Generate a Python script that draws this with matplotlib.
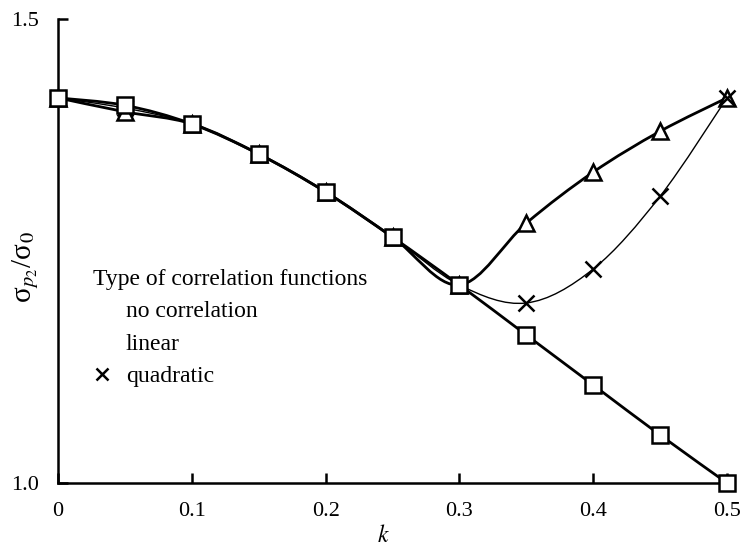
import numpy as np
import matplotlib.pyplot as plt
from matplotlib.path import Path
from matplotlib.patches import PathPatch
from matplotlib.lines import Line2D

plt.rcParams['font.family'] = ['Liberation Serif', 'DejaVu Serif']
plt.rcParams['mathtext.fontset'] = 'stix'

k = [0, 0.05, 0.1, 0.15, 0.2, 0.25, 0.3, 0.35, 0.4, 0.45, 0.5]
no_corr = [1.415, 1.407, 1.387, 1.3545, 1.3136, 1.265, 1.2134, 1.1595, 1.1056, 1.0517, 1.0]
linear = [1.415, 1.400, 1.387, 1.3545, 1.3136, 1.265, 1.2134, 1.280, 1.335, 1.379, 1.415]
quadratic = [1.415, 1.404, 1.387, 1.3545, 1.3136, 1.265, 1.2134, 1.194, 1.2306, 1.309, 1.415]

x_ticks = [0, 0.1, 0.2, 0.3, 0.4, 0.5]
x_ticklabels = ['0', '0.1', '0.2', '0.3', '0.4', '0.5']
y_ticks = [1.0, 1.5]
y_ticklabels = ['1.0', '1.5']


def smooth_path(x, y):
    # Catmull-Rom style bezier through the points (like a spreadsheet "smoothed line")
    p = np.column_stack([x, y])
    verts = [p[0]]
    codes = [Path.MOVETO]
    n = len(p)
    for i in range(n - 1):
        p0 = p[i - 1] if i > 0 else p[i]
        p3 = p[i + 2] if i + 2 < n else p[i + 1]
        c1 = p[i] + (p[i + 1] - p0) / 6.0
        c2 = p[i + 1] - (p3 - p[i]) / 6.0
        verts += [c1, c2, p[i + 1]]
        codes += [Path.CURVE4] * 3
    return Path(verts, codes)


fig = plt.figure(figsize=(7.42, 5.46), dpi=100)
ax = fig.add_axes([58 / 742, 63 / 546, 669 / 742, 464 / 546])

series = [
    (linear, '^', 2.0, 'linear'),
    (quadratic, 'x', 1.0, 'quadratic'),
    (no_corr, 's', 2.0, 'no correlation'),
]
for ys, mk, lw, name in series:
    ax.add_patch(PathPatch(smooth_path(k, ys), fill=False, edgecolor='black',
                           lw=lw, zorder=2, clip_on=False))
    if mk == 'x':
        ax.plot(k, ys, ls='none', marker='x', ms=11, mew=1.8, color='black',
                zorder=3, clip_on=False)
    else:
        ax.plot(k, ys, ls='none', marker=mk, ms=11, mfc='white', mec='black',
                mew=1.8, zorder=3, clip_on=False)

ax.set_xlim(0, 0.5)
ax.set_ylim(1.0, 1.5)
ax.set_xticks(x_ticks)
ax.set_xticklabels(x_ticklabels)
ax.set_yticks(y_ticks)
ax.set_yticklabels(y_ticklabels)
ax.tick_params(direction='in', length=7, width=1.8, labelsize=16, pad=14)
for s in ['top', 'right']:
    ax.spines[s].set_visible(False)
for s in ['left', 'bottom']:
    ax.spines[s].set_linewidth(1.8)

ax.set_xlabel('$k$', fontsize=17)
ax.xaxis.set_label_coords(0.486, -0.090)
ax.set_ylabel('σ$_{p_2}$/σ$_0$', fontsize=21)
ax.yaxis.set_label_coords(-0.026, 0.466)

handles = [Line2D([], [], ls='none'),
           Line2D([], [], ls='none'),
           Line2D([], [], ls='none', marker='x', ms=8, mew=1.8, color='black')]
leg = ax.legend(handles, ['no correlation', 'linear', 'quadratic'],
                title='Type of correlation functions', title_fontsize=17,
                fontsize=17, alignment='left', frameon=False,
                loc='upper left', bbox_to_anchor=(30 / 669, (483 - 264) / 464),
                handlelength=0.8, handletextpad=0.6, labelspacing=0.46,
                borderpad=0.2, borderaxespad=0)

fig.savefig('out.png', dpi=100)
